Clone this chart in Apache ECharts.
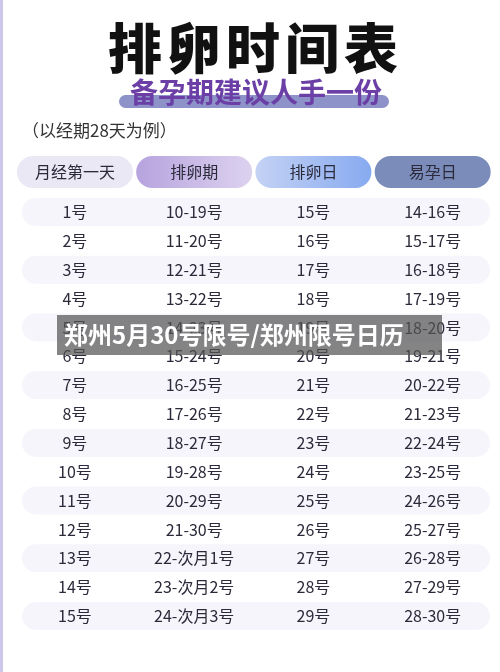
<!DOCTYPE html>
<html><head><meta charset="utf-8">
<script src="https://cdn.jsdelivr.net/npm/echarts@6/dist/echarts.min.js"></script>
<style>html,body{margin:0;padding:0;background:#fff}#c{width:500px;height:672px}</style>
</head><body><div id="c"></div>
<script>
const headers = ['月经第一天','排卵期','排卵日','易孕日'];
const periodDay = ['1号','2号','3号','4号','5号','6号','7号','8号','9号','10号','11号','12号','13号','14号','15号'];
const ovulationPeriod = ['10-19号','11-20号','12-21号','13-22号','14-23号','15-24号','16-25号','17-26号','18-27号','19-28号','20-29号','21-30号','22-次月1号','23-次月2号','24-次月3号'];
const ovulationDay = ['15号','16号','17号','18号','19号','20号','21号','22号','23号','24号','25号','26号','27号','28号','29号'];
const fertileDays = ['14-16号','15-17号','16-18号','17-19号','18-20号','19-21号','20-22号','21-23号','22-24号','23-25号','24-26号','25-27号','26-28号','27-29号','28-30号'];
const headerRow = -0.386;
const titleChars = ['排','卵','时','间','表'];

const columns = [periodDay, ovulationPeriod, ovulationDay, fertileDays];
const cellData = [];
columns.forEach((col, ci) => col.forEach((t, ri) => cellData.push({value:[ci, ri+1], label:t})));
const bandData = periodDay.map((_, i) => i+1).filter(r => r % 2 === 1).map(r => [0, r]);
const headerFills = [
  '#ebe8f6',
  new echarts.graphic.LinearGradient(0,0,1,0,[{offset:0,color:'#b7a3de'},{offset:1,color:'#dcd2ef'}]),
  new echarts.graphic.LinearGradient(0,0,1,0,[{offset:0,color:'#c4d2f4'},{offset:1,color:'#87aaf0'}]),
  '#7b8cba'
];
const titleGraphics = titleChars.map((ch,i)=>({type:'text',x:135+i*59,y:48,style:{text:ch,fontSize:54,fontWeight:'900',fill:'#111',align:'center',verticalAlign:'middle',fontFamily:'Noto Sans CJK SC'}}));
const chart = echarts.init(document.getElementById('c'));
chart.setOption({
  animation:false,
  grid:{left:15.3,right:7.7,top:154.3,bottom:27.1},
  xAxis:{type:'category',data:headers,show:false},
  yAxis:{type:'value',min:-1,max:16,inverse:true,show:false},
  graphic:[
    {type:'rect',shape:{x:0,y:0,width:3,height:672},style:{fill:'#cfc6ec'}},
    ...titleGraphics,
    {type:'rect',shape:{x:119,y:95,width:270,height:13,r:6.5},style:{fill:'#8d93c9'}},
    {type:'text',x:256,y:92,style:{text:'备孕期建议人手一份',fontSize:28,fontWeight:'bold',fill:'#6b3fa6',align:'center',verticalAlign:'middle',fontFamily:'Noto Sans CJK SC'}},
    {type:'text',left:22,top:122,style:{text:'（以经期28天为例）',fontSize:17,fill:'#333',fontFamily:'Noto Sans CJK SC'}},
    {type:'rect',z:100,shape:{x:57,y:315,width:385,height:40},style:{fill:'rgba(85,85,85,0.72)'}},
    {type:'text',z:101,x:64,y:335,style:{text:'郑州5月30号限号/郑州限号日历',fontSize:24,fontWeight:'bold',fill:'#fff',verticalAlign:'middle',fontFamily:'Noto Sans CJK SC'}}
  ],
  series:[
    {type:'custom',data:bandData,renderItem:(p,api)=>{
      const c=api.coord([0,api.value(1)]);
      return {type:'rect',shape:{x:22,y:c[1]-14,width:468,height:28,r:14},style:{fill:'#f6f5fb'}};
    }},
    {type:'custom',data:headers.map((h,i)=>[i,headerRow]),renderItem:(p,api)=>{
      const i=api.value(0);const c=api.coord([i,headerRow]);
      return {type:'group',children:[
        {type:'rect',shape:{x:c[0]-58,y:c[1]-16,width:116,height:32,r:16},style:{fill:headerFills[i]}},
        {type:'text',style:{text:headers[i],x:c[0],y:c[1],align:'center',verticalAlign:'middle',fontSize:16,fill:'#2a2a3a',fontFamily:'Noto Sans CJK SC'}}
      ]};
    }},
    {type:'custom',data:cellData,renderItem:(p,api)=>{
      const c=api.coord([api.value(0),api.value(1)]);
      return {type:'text',style:{text:cellData[p.dataIndex].label,x:c[0],y:c[1],align:'center',verticalAlign:'middle',fontSize:16,fill:'#2a2a3a',fontFamily:'Noto Sans CJK SC'}};
    }}
  ]
});
</script></body></html>
